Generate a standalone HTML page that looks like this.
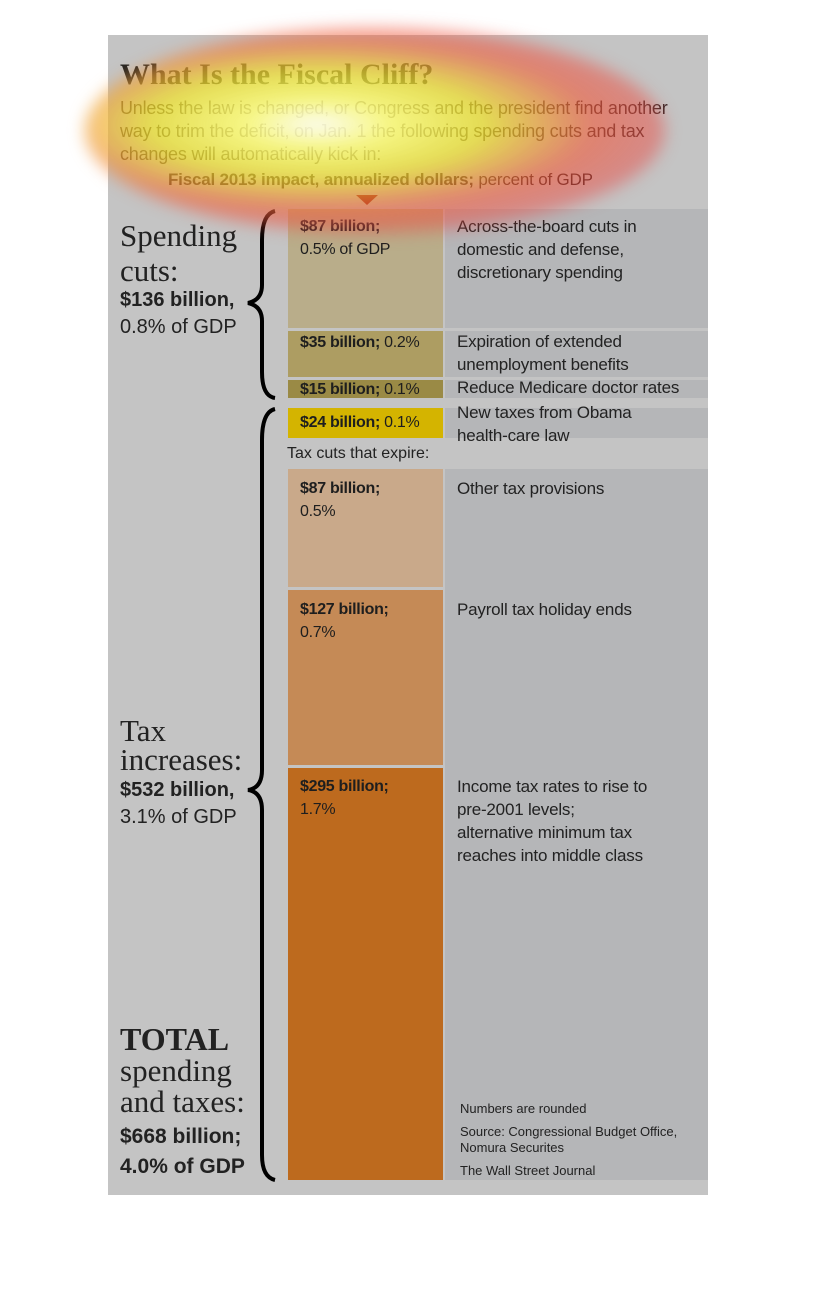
<!DOCTYPE html>
<html><head><meta charset="utf-8"><style>
body{margin:0;width:816px;height:1290px;background:#fff;position:relative;overflow:hidden;font-family:"Liberation Sans",sans-serif}
.p{position:absolute;left:108px;top:35px;width:600px;height:1160px;background:#c4c4c4}
.a{position:absolute}
.bar{position:absolute;left:288px;width:155px}
.r{position:absolute;left:445px;width:263px;background:#b5b6b8}
.bt{position:absolute;left:300px;font-size:16px;color:#1e1e1e;line-height:23px;letter-spacing:-0.3px}
.dt{position:absolute;left:457px;font-size:17px;color:#222;line-height:23px;letter-spacing:-0.2px}
.serif{font-family:"Liberation Serif",serif;color:#222}
</style></head><body>
<div class="p"></div>
<div class="r" style="top:209px;height:119px"></div>
<div class="r" style="top:331px;height:46px"></div>
<div class="r" style="top:380px;height:18px"></div>
<div class="r" style="top:408px;height:30px"></div>
<div class="r" style="top:469px;height:711px"></div>
<div class="bar" style="top:209px;height:119px;background:#b9ad8a"></div>
<div class="bar" style="top:331px;height:46px;background:#ad9d62"></div>
<div class="bar" style="top:380px;height:18px;background:#9a8a45"></div>
<div class="bar" style="top:408px;height:30px;background:#d4b400"></div>
<div class="bar" style="top:469px;height:118px;background:#c9a98a"></div>
<div class="bar" style="top:590px;height:175px;background:#c58a56"></div>
<div class="bar" style="top:768px;height:412px;background:#bd6a1e"></div>

<div class="a serif" style="left:120px;top:58px;font-size:30px;font-weight:bold">What Is the Fiscal Cliff?</div>
<div class="a" style="left:120px;top:97px;font-size:18px;line-height:23px;color:#3a2a2a;white-space:nowrap;letter-spacing:-0.2px">Unless the law is changed, or Congress and the president find another<br>way to trim the deficit, on Jan. 1 the following spending cuts and tax<br>changes will automatically kick in:</div>
<div class="a" style="left:168px;top:170px;font-size:17px;color:#2a1a1a;letter-spacing:-0.2px"><b>Fiscal 2013 impact, annualized dollars;</b> percent of GDP</div>
<div class="a" style="left:356px;top:195px;width:0;height:0;border-left:11px solid transparent;border-right:11px solid transparent;border-top:10px solid #8a1010"></div>

<div class="a serif" style="left:120px;top:218px;font-size:31px;line-height:35px">Spending<br>cuts:</div>
<div class="a" style="left:120px;top:287px;font-size:20px;line-height:27px;color:#222"><b>$136 billion,</b><br>0.8% of GDP</div>
<div class="a serif" style="left:120px;top:716px;font-size:31px;line-height:29px">Tax<br>increases:</div>
<div class="a" style="left:120px;top:777px;font-size:20px;line-height:27px;color:#222"><b>$532 billion,</b><br>3.1% of GDP</div>
<div class="a serif" style="left:120px;top:1024px;font-size:31px;line-height:31px"><b style="font-size:32px">TOTAL</b><br>spending<br>and taxes:</div>
<div class="a" style="left:120px;top:1122px;font-size:21px;line-height:30px;color:#222;font-weight:bold">$668 billion;<br>4.0% of GDP</div>

<svg class="a" style="left:0;top:0" width="816" height="1290">
<path d="M275 211 Q262 214 262 240 L262 285 Q262 300 248 303 Q262 306 262 321 L262 372 Q262 396 275 398" fill="none" stroke="#000" stroke-width="4"/>
<path d="M275 409 Q262 412 262 440 L262 770 Q262 788 248 790 Q262 792 262 810 L262 1155 Q262 1177 275 1180" fill="none" stroke="#000" stroke-width="4"/>
</svg>

<div class="bt" style="top:215px"><b>$87 billion;</b><br>0.5% of GDP</div>
<div class="bt" style="top:331px"><b>$35 billion;</b> 0.2%</div>
<div class="bt" style="top:378px"><b>$15 billion;</b> 0.1%</div>
<div class="bt" style="top:411px"><b>$24 billion;</b> 0.1%</div>
<div class="a" style="left:287px;top:445px;font-size:16px;color:#222">Tax cuts that expire:</div>
<div class="bt" style="top:477px"><b>$87 billion;</b><br>0.5%</div>
<div class="bt" style="top:598px"><b>$127 billion;</b><br>0.7%</div>
<div class="bt" style="top:775px"><b>$295 billion;</b><br>1.7%</div>

<div class="dt" style="top:215px">Across-the-board cuts in<br>domestic and defense,<br>discretionary spending</div>
<div class="dt" style="top:330px">Expiration of extended<br>unemployment benefits</div>
<div class="dt" style="top:376px">Reduce Medicare doctor rates</div>
<div class="dt" style="top:401px">New taxes from Obama<br>health-care law</div>
<div class="dt" style="top:477px">Other tax provisions</div>
<div class="dt" style="top:598px">Payroll tax holiday ends</div>
<div class="dt" style="top:775px">Income tax rates to rise to<br>pre-2001 levels;<br>alternative minimum tax<br>reaches into middle class</div>
<div class="a" style="left:460px;top:1100px;font-size:13px;color:#222;line-height:17px">Numbers are rounded</div>
<div class="a" style="left:460px;top:1124px;font-size:13px;color:#222;line-height:16px">Source: Congressional Budget Office,<br>Nomura Securites</div>
<div class="a" style="left:460px;top:1163px;font-size:13px;color:#222">The Wall Street Journal</div>

<div class="a" style="left:85px;top:28px;width:580px;height:205px;border-radius:50%;background:radial-gradient(ellipse at 40% 47%,rgba(255,255,255,0.95) 0%,rgba(255,255,120,0.85) 15%,rgba(240,230,40,0.72) 34%,rgba(240,90,60,0.62) 56%,rgba(230,60,70,0.4) 76%,rgba(220,60,70,0) 100%);filter:blur(8px)"></div>
</body></html>
